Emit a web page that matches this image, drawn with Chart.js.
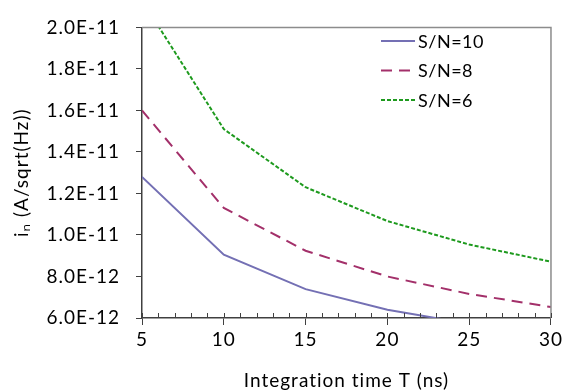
<!DOCTYPE html>
<html>
<head>
<meta charset="utf-8">
<script src="https://cdn.jsdelivr.net/npm/chart.js@4.4.1/dist/chart.umd.min.js"></script>
<style>
    html, body { margin: 0; padding: 0; background: #fff; }
    #wrap { width: 566px; height: 392px; }
</style>
</head>
<body>
<div id="wrap"><canvas id="noiseChart"></canvas></div>
<script>
// integration time T (ns)
var times = [5, 10, 15, 20, 25, 30];
// input noise current i_n (A/sqrt(Hz)) per S/N
var sn10 = [1.28e-11, 9.05e-12, 7.39e-12, 6.40e-12, 5.72e-12, 5.23e-12];
var sn8 = [1.60e-11, 1.13e-11, 9.24e-12, 8.00e-12, 7.16e-12, 6.53e-12];
var sn6 = [2.13e-11, 1.51e-11, 1.23e-11, 1.067e-11, 9.54e-12, 8.71e-12];
var seriesNames = ["S/N=10", "S/N=8", "S/N=6"];

var FONT = "Lato, 'Open Sans', sans-serif";

function toPoints(vals) {
    return times.map(function (t, i) {
        return { x: t, y: vals[i] };
    });
}

// a bit of letter spacing so the text looks like the original
var spacing = {
    id: "spacing",
    beforeLayout: function (chart) {
        chart.ctx.letterSpacing = "1px";
    },
    beforeDraw: function (chart) {
        chart.ctx.letterSpacing = "1px";
    },
};

// legend drawn inside the plot, top right
var insideLegend = {
    id: "insideLegend",
    afterDraw: function (chart) {
        var ctx = chart.ctx;
        ctx.save();
        ctx.letterSpacing = "0.5px";
        chart.data.datasets.forEach(function (ds, i) {
            var y = 41 + i * 29.5;
            ctx.strokeStyle = ds.borderColor;
            ctx.lineWidth = 2;
            ctx.setLineDash(ds.borderDash || []);
            ctx.beginPath();
            ctx.moveTo(381, y);
            ctx.lineTo(415, y);
            ctx.stroke();
            ctx.setLineDash([]);
            ctx.fillStyle = "#000";
            ctx.font = "18px " + FONT;
            ctx.textBaseline = "middle";
            ctx.fillText(ds.label, 418, y + 1);
        });
        ctx.restore();
    },
};

// frame on top/right, minor ticks pointing into the plot
var frame = {
    id: "frame",
    afterDraw: function (chart) {
        var ctx = chart.ctx;
        var a = chart.chartArea;
        var xs = chart.scales.x;
        ctx.save();
        ctx.strokeStyle = "#8c8c8c";
        ctx.lineWidth = 1.5;
        ctx.beginPath();
        ctx.moveTo(a.left, a.top);
        ctx.lineTo(a.right, a.top);
        ctx.lineTo(a.right, a.bottom);
        ctx.stroke();
        ctx.strokeStyle = "#404040";
        ctx.lineWidth = 1;
        for (var t = 5; t <= 30; t++) {
            var px = Math.round(xs.getPixelForValue(t)) + 0.5;
            ctx.beginPath();
            ctx.moveTo(px, a.bottom);
            ctx.lineTo(px, a.bottom - 5);
            ctx.stroke();
        }
        ctx.restore();
    },
};

var ctx = document.getElementById("noiseChart").getContext("2d");
new Chart(ctx, {
    type: "line",
    data: {
        datasets: [
            {
                label: seriesNames[0],
                data: toPoints(sn10),
                borderColor: "#7470b4",
                borderWidth: 2,
                pointRadius: 0,
            },
            {
                label: seriesNames[1],
                data: toPoints(sn8),
                borderColor: "#a3306a",
                borderWidth: 2,
                borderDash: [11, 7],
                pointRadius: 0,
            },
            {
                label: seriesNames[2],
                data: toPoints(sn6),
                borderColor: "#1e9a1e",
                borderWidth: 2,
                borderDash: [4, 2],
                pointRadius: 0,
            },
        ],
    },
    options: {
        responsive: true,
        maintainAspectRatio: false,
        animation: false,
        layout: { padding: { left: 0, top: 14, right: 12, bottom: 0 } },
        plugins: {
            legend: { display: false },
            tooltip: { enabled: false },
        },
        scales: {
            x: {
                type: "linear",
                min: 5,
                max: 30,
                ticks: {
                    stepSize: 5,
                    color: "#000",
                    font: { family: FONT, size: 19 },
                    padding: 3,
                },
                grid: {
                    drawOnChartArea: false,
                    tickLength: 7,
                    tickColor: "#404040",
                },
                border: { color: "#404040", width: 1.5 },
                title: {
                    display: true,
                    text: "Integration time T (ns)",
                    color: "#000",
                    font: { family: FONT, size: 19 },
                    padding: { top: 4, bottom: 0 },
                },
                afterFit: function (scale) {
                    scale.height = 74;
                },
            },
            y: {
                min: 6e-12,
                max: 2e-11,
                ticks: {
                    stepSize: 2e-12,
                    color: "#000",
                    font: { family: FONT, size: 19 },
                    padding: 16,
                    callback: function (v) {
                        return v.toExponential(1).toUpperCase();
                    },
                },
                grid: {
                    drawOnChartArea: false,
                    tickLength: 6,
                    tickColor: "#404040",
                },
                border: { color: "#404040", width: 1.5 },
                title: {
                    display: true,
                    text: "i\u2099 (A/sqrt(Hz))",
                    color: "#000",
                    font: { family: FONT, size: 19 },
                    padding: { top: 10, bottom: 0 },
                },
                afterFit: function (scale) {
                    scale.width = 142;
                },
            },
        },
    },
    plugins: [spacing, frame, insideLegend],
});
</script>
</body>
</html>
